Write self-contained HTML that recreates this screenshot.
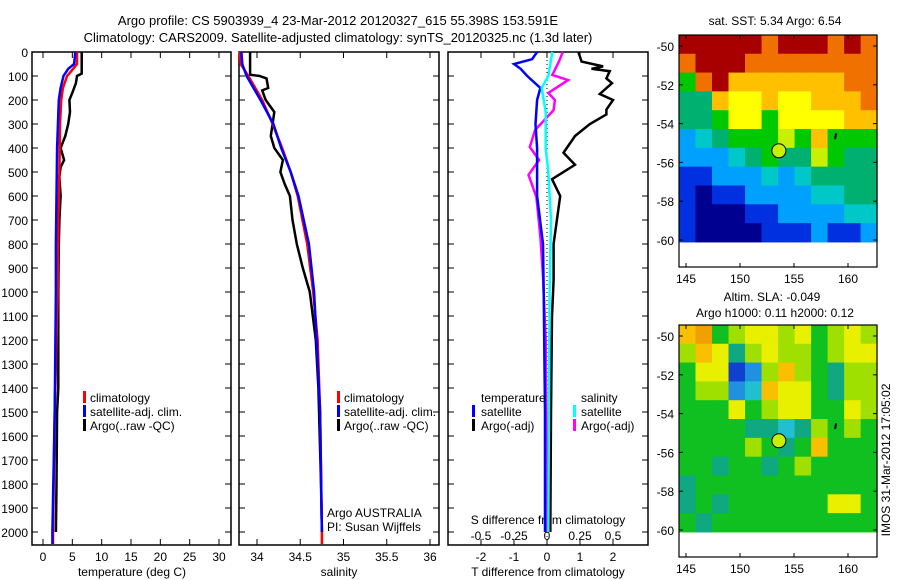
<!DOCTYPE html>
<html><head><meta charset="utf-8">
<style>
html,body{margin:0;padding:0;background:#fff;}
svg{display:block;font-family:"Liberation Sans",sans-serif;}
text{font-size:12px;fill:#000;}
</style></head>
<body>
<svg id="chart" width="900" height="580" viewBox="0 0 900 580" xmlns="http://www.w3.org/2000/svg">
<rect width="900" height="580" fill="#fff"/>
<text x="338" y="25" text-anchor="middle" style="font-size:13px">Argo profile: CS 5903939_4 23-Mar-2012 20120327_615 55.398S 153.591E</text>
<text x="338" y="42" text-anchor="middle" style="font-size:13px">Climatology: CARS2009. Satellite-adjusted climatology: synTS_20120325.nc (1.3d later)</text>
<g id="g"></g>
</svg>
<script>
// ---------- data ----------
const depthTicks = [0,100,200,300,400,500,600,700,800,900,1000,1100,1200,1300,1400,1500,1600,1700,1800,1900,2000];
const tempTicks = [0,5,10,15,20,25,30];
const salTicks = [34,34.5,35,35.5,36];
const tdiffTicks = [-2,-1,0,1,2];
const sdiffTicks = [-0.5,-0.25,0,0.25,0.5];
const sdiffLabels = ["-0.5","-0.25","0","0.25","0.5"];
const lonTicks = [145,150,155,160];
const latTicks = [-50,-52,-54,-56,-58,-60];

const tClimDepth = [0,50,80,100,150,200,300,500,700,1000,1500,2000,2050];
const tClimVal   = [5.8,5.8,4.8,4.1,3.4,3.1,2.9,2.8,2.6,2.5,2.0,1.7,1.7];
const tSatDepth  = [0,50,70,100,150,200,400,800,1000,1500,2000,2050];
const tSatVal    = [5.5,5.3,4.3,3.5,3.0,2.7,2.4,2.2,2.2,2.0,1.6,1.6];
const tArgoDepth = [0,90,100,130,170,200,250,300,350,400,450,480,520,600,700,800,1000,1400,1500,1800,2000];
const tArgoVal   = [6.6,6.6,5.8,5.6,5.0,4.5,4.6,4.3,3.8,3.0,3.6,3.0,2.8,3.0,2.8,2.7,2.6,2.6,2.4,2.3,2.2];

const sClimDepth = [0,50,100,150,200,300,400,500,600,800,1000,1200,1500,2000,2050];
const sClimVal   = [33.80,33.81,33.9,33.98,34.06,34.18,34.29,34.39,34.47,34.58,34.65,34.70,34.73,34.75,34.75];
const sSatDepth  = [0,50,100,200,300,400,500,600,800,1000,1500,2000];
const sSatVal    = [33.82,33.83,33.88,34.04,34.19,34.28,34.39,34.48,34.60,34.66,34.73,34.75];
const sArgoDepth = [0,95,100,110,150,160,200,250,300,350,400,450,500,550,600,700,800,900,1000,1200,1400,1800,2000];
const sArgoVal   = [33.92,33.92,34.03,34.11,34.13,34.06,34.1,34.2,34.18,34.16,34.2,34.3,34.27,34.32,34.38,34.41,34.46,34.53,34.61,34.68,34.71,34.74,34.75];

const dTSatDepth = [0,30,50,70,100,150,200,300,400,600,800,1000,1500,2000];
const dTSatVal   = [-0.3,-0.45,-1.0,-0.8,-0.6,-0.2,-0.3,-0.35,-0.3,-0.3,-0.12,-0.1,-0.06,-0.06];
const dTArgoDepth = [0,40,60,70,80,110,130,175,200,240,260,300,350,420,470,530,600,700,800,950,1100,1500,2000];
const dTArgoVal   = [0.95,1.05,1.7,1.35,1.9,1.8,1.97,1.6,2.0,1.8,1.8,1.3,0.85,0.5,0.85,0.15,0.4,0.3,0.2,0.2,0.15,0.12,0.1];
const dSSatDepth = [0,100,150,250,400,500,700,1000,2000];
const dSSatVal   = [0.04,0.01,-0.04,-0.01,-0.01,0.01,0.03,0.02,0.01];
const dSArgoDepth = [0,40,96,117,171,200,242,325,396,450,512,604,771,937,1200,2000];
const dSArgoVal   = [0.12,0.09,0.04,0.16,0.01,0.06,0.05,-0.09,-0.13,-0.06,-0.14,-0.08,-0.05,-0.03,-0.01,0.0];

const sstGrid = [
[10,10,10,10,10,9,10,10,10,9,10,9],
[9,10,10,10,9,9,9,9,9,9,9,9],
[5,9,10,8,8,8,8,8,8,8,9,9],
[4,4,8,7,7,8,7,7,8,8,8,9],
[4,4,5,7,7,5,7,7,7,7,8,8],
[2,3,4,5,5,5,6,5,8,5,5,5],
[2,2,2,3,4,5,4,4,6,5,4,4],
[1,1,2,2,2,3,2,3,4,4,4,4],
[1,0,1,1,2,2,2,2,3,3,4,4],
[1,0,0,0,1,1,2,2,2,2,3,3],
[1,0,0,0,0,1,1,1,2,1,1,2]];
const slaGrid = [
[8,9,5,6,7,7,6,7,5,6,7,6],
[6,8,7,4,6,7,6,6,5,6,7,7],
[5,7,7,1,2,6,8,6,5,4,6,6],
[5,6,6,2,3,8,7,7,5,4,6,6],
[5,5,5,7,5,6,7,7,5,5,7,6],
[5,5,5,5,4,4,3,4,6,5,6,5],
[5,5,5,5,6,5,4,5,8,5,5,5],
[5,5,4,5,5,4,5,6,5,5,5,5],
[4,5,5,5,5,5,5,5,5,5,5,5],
[4,5,4,5,5,5,5,5,5,7,7,5],
[5,4,5,5,5,5,5,5,5,5,5,5]];
const argoLon = 153.6, argoLat = -55.4;

// ---------- helpers ----------
const NS = "http://www.w3.org/2000/svg";
const G = document.getElementById('g');
function mk(tag, attrs, parent){ const e=document.createElementNS(NS,tag); for(const k in attrs) e.setAttribute(k,attrs[k]); (parent||G).appendChild(e); return e; }
function txt(x,y,s,anchor,name,extra){ const t=mk('text',Object.assign({x:x,y:y,'text-anchor':anchor||'start'},extra||{})); t.textContent=s;
 
 
 return t; }
const yD = d => 52 + d*0.24;
const PT={x0:32,x1:231,y0:52,y1:545};
const xT = v => 43 + v*5.8667;
const xS = v => 257 + (v-34)*86.5;
const xdT = v => 547 + v*33;
const xdS = v => 547 + v*132;

function frame(p,name){
 const r=mk('rect',{x:p.x0,y:p.y0,width:p.x1-p.x0,height:p.y1-p.y0,fill:'none',stroke:'#000','stroke-width':1.5});
 
 
}
function line(depths, vals, xf, color, name){
 const pts=depths.map((d,i)=>xf(vals[i]).toFixed(1)+','+yD(d).toFixed(1)).join(' ');
 const l=mk('polyline',{points:pts,fill:'none',stroke:color,'stroke-width':2.5,'stroke-linejoin':'miter'});
 
 
}
function xticks(p,ticks,xf,labels,name,top){
 ticks.forEach((t,i)=>{
  const x=xf(t);
  mk('line',{x1:x,x2:x,y1:p.y1,y2:p.y1-6,stroke:'#000'});
  mk('line',{x1:x,x2:x,y1:p.y0,y2:p.y0+6,stroke:'#000'});
  txt(x,p.y1+16,labels?labels[i]:String(t),'middle',name+'-tick-label');
 });
}
function yticks(p){
 depthTicks.forEach(d=>{ const y=yD(d);
  mk('line',{x1:p.x0,x2:p.x0+6,y1:y,y2:y,stroke:'#000'});
  mk('line',{x1:p.x1,x2:p.x1-6,y1:y,y2:y,stroke:'#000'});
 });
}
function legendMark(x,y,color,name){
 const r=mk('rect',{x:x,y:y-11,width:3,height:12,fill:color});
 
 
}

// ---------- panel 1 temperature ----------
frame(PT,'temperature-plot-frame');
yticks(PT);
depthTicks.forEach(d=>txt(28,yD(d)+5,String(d),'end','depth-tick-label'));
xticks(PT,tempTicks,xT,null,'temperature');
txt(132,576,'temperature (deg C)','middle','temperature-axis-title');
line(tArgoDepth,tArgoVal,xT,'#000','temp-argo-line');
line(tClimDepth,tClimVal,xT,'#f00','temp-climatology-line');
line(tSatDepth,tSatVal,xT,'#00f','temp-satellite-line');
legendMark(83,402,'#f00','legend-climatology-mark');
legendMark(83,416,'#00f','legend-satellite-mark');
legendMark(83,430,'#000','legend-argo-mark');
txt(90,402,'climatology','start','legend-climatology');
txt(90,416,'satellite-adj. clim.','start','legend-satellite');
txt(90,430,'Argo(..raw -QC)','start','legend-argo');

// ---------- panel 2 salinity ----------
const PS={x0:239,x1:439,y0:52,y1:545};
frame(PS,'salinity-plot-frame');
yticks(PS);
xticks(PS,salTicks,xS,null,'salinity');
txt(339,576,'salinity','middle','salinity-axis-title');
line(sArgoDepth,sArgoVal,xS,'#000','sal-argo-line');
line(sClimDepth,sClimVal,xS,'#f00','sal-climatology-line');
line(sSatDepth,sSatVal,xS,'#00f','sal-satellite-line');
legendMark(337,402,'#f00','legend2-climatology-mark');
legendMark(337,416,'#00f','legend2-satellite-mark');
legendMark(337,430,'#000','legend2-argo-mark');
txt(344,402,'climatology','start','legend2-climatology');
txt(344,416,'satellite-adj. clim.','start','legend2-satellite');
txt(344,430,'Argo(..raw -QC)','start','legend2-argo');
txt(327,517,'Argo AUSTRALIA','start','argo-australia-label');
txt(327,531,'PI: Susan Wijffels','start','pi-label');

// ---------- panel 3 differences ----------
const PD={x0:448,x1:648,y0:52,y1:545};
frame(PD,'difference-plot-frame');
yticks(PD);
tdiffTicks.forEach(t=>{const x=xdT(t);
 mk('line',{x1:x,x2:x,y1:PD.y1,y2:PD.y1-6,stroke:'#000'});
 mk('line',{x1:x,x2:x,y1:PD.y0,y2:PD.y0+6,stroke:'#000'});
 txt(x,561,String(t),'middle','tdiff-tick-label');});
sdiffTicks.forEach((t,i)=>txt(xdS(t),540,sdiffLabels[i],'middle','sdiff-tick-label'));
txt(548,524,'S difference from climatology','middle','sdiff-axis-title');
txt(548,576,'T difference from climatology','middle','tdiff-axis-title');
const zl=mk('line',{x1:xdT(0),x2:xdT(0),y1:PD.y0,y2:PD.y1,stroke:'#000','stroke-dasharray':'1,3'});


line(dTArgoDepth,dTArgoVal,xdT,'#000','tdiff-argo-line');
line(dSArgoDepth,dSArgoVal,xdS,'#f0f','sdiff-argo-line');
line(dTSatDepth,dTSatVal,xdT,'#00f','tdiff-satellite-line');
line(dSSatDepth,dSSatVal,xdS,'#0ff','sdiff-satellite-line');
txt(481,402,'temperature','start','legend3-temperature-header');
txt(581,402,'salinity','start','legend3-salinity-header');
legendMark(472,416,'#00f','legend3-tsat-mark');
legendMark(472,430,'#000','legend3-targo-mark');
legendMark(573,416,'#0ff','legend3-ssat-mark');
legendMark(573,430,'#f0f','legend3-sargo-mark');
txt(481,416,'satellite','start','legend3-tsat');
txt(481,430,'Argo(-adj)','start','legend3-targo');
txt(581,416,'satellite','start','legend3-ssat');
txt(581,430,'Argo(-adj)','start','legend3-sargo');

// ---------- maps ----------
const jet=['#000090','#0030e0','#00a0ff','#00c8c8','#00b070','#00c800','#c8f000','#ffff00','#ffc000','#f07000','#a80000'];
const slaCols=['#000090','#1040d0','#2090e0','#20c0d0','#10a880','#10c020','#a0e000','#e8f000','#f8c000','#f0a000','#c06000'];
function map(y0, grid, cmap, name){
 const M={x0:679,x1:877,y0:y0,y1:y0+232};
 const xL = lon => 686 + (lon-145)*10.8;
 const yL = lat => (y0+11) + (-50-lat)*19.4;
 const top=-49.43, bot=-60.1, left=144.35, right=162.7;
 const nr=grid.length, nc=grid[0].length;
 const g=mk('g',{});
 
 
 for(let r=0;r<nr;r++)for(let c=0;c<nc;c++){
  const la0=top+(bot-top)*r/nr, la1=top+(bot-top)*(r+1)/nr;
  const lo0=left+(right-left)*c/nc, lo1=left+(right-left)*(c+1)/nc;
  mk('rect',{x:xL(lo0),y:yL(la0),width:xL(lo1)-xL(lo0)+0.5,height:yL(la1)-yL(la0)+0.5,fill:cmap[grid[r][c]]},g);
 }
 const f=mk('rect',{x:M.x0,y:M.y0,width:M.x1-M.x0,height:M.y1-M.y0,fill:'none',stroke:'#000','stroke-width':1.2});
 
 
 lonTicks.forEach(l=>{const x=xL(l);
  mk('line',{x1:x,x2:x,y1:M.y1,y2:M.y1-4,stroke:'#000'});
  mk('line',{x1:x,x2:x,y1:M.y0,y2:M.y0+4,stroke:'#000'});
  txt(x,M.y1+16,String(l),'middle',name+'-lon-label');});
 latTicks.forEach(l=>{const y=yL(l);
  mk('line',{x1:M.x0,x2:M.x0+4,y1:y,y2:y,stroke:'#000'});
  mk('line',{x1:M.x1,x2:M.x1-4,y1:y,y2:y,stroke:'#000'});
  txt(M.x0-5,y+5,String(l),'end',name+'-lat-label');});
 const c=mk('circle',{cx:xL(argoLon),cy:yL(argoLat),r:7,fill:'#c8f000',stroke:'#000','stroke-width':1});
 
 
 mk('line',{x1:xL(158.9),x2:xL(158.8),y1:yL(-54.5),y2:yL(-54.8),stroke:'#000','stroke-width':2});
}
map(35,sstGrid,jet,'sst-map');
map(325,slaGrid,slaCols,'sla-map');
txt(775,25,'sat. SST: 5.34  Argo: 6.54','middle','sst-map-title');
txt(772,301,'Altim. SLA: -0.049','middle','sla-map-title-1');
txt(775,317,'Argo h1000: 0.11  h2000: 0.12','middle','sla-map-title-2');
txt(0,0,'IMOS 31-Mar-2012 17:05:02','middle','imos-timestamp',{transform:'translate(890,460) rotate(-90)'});
</script>
</body></html>
